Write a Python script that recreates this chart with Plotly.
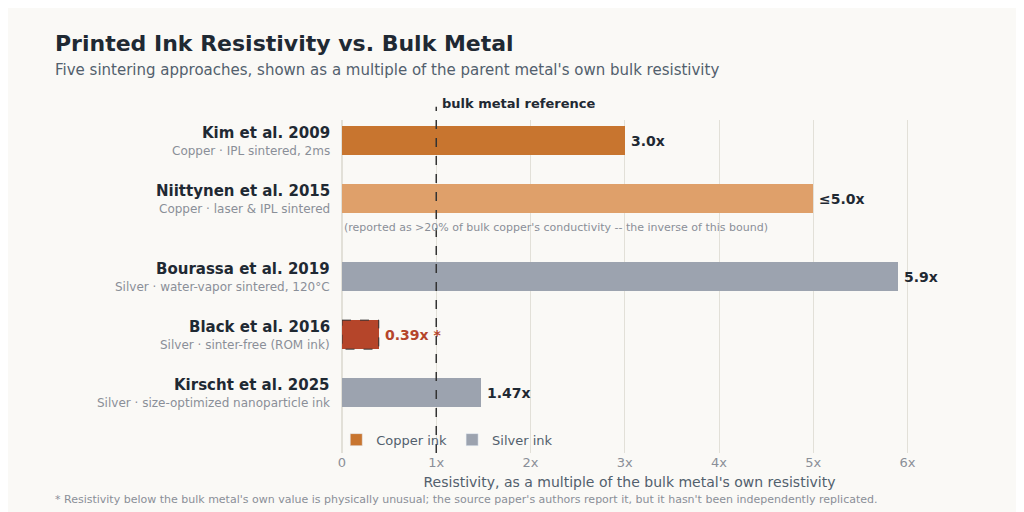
import plotly.graph_objects as go

# Data
studies = ["Kim et al. 2009", "Niittynen et al. 2015", "Bourassa et al. 2019",
           "Black et al. 2016", "Kirscht et al. 2025"]
details = ["Copper · IPL sintered, 2ms", "Copper · laser & IPL sintered",
           "Silver · water-vapor sintered, 120°C", "Silver · sinter-free (ROM ink)",
           "Silver · size-optimized nanoparticle ink"]
metal = ["Copper", "Copper", "Silver", "Silver", "Silver"]
resistivity = [3.0, 5.0, 5.9, 0.39, 1.47]
value_labels = ["3.0x", "≤5.0x", "5.9x", "0.39x *", "1.47x"]
x_ticks = [0, 1, 2, 3, 4, 5, 6]
x_tick_labels = ["0", "1x", "2x", "3x", "4x", "5x", "6x"]

ypos = [0, 1, 2.34, 3.34, 4.34]  # extra gap for the note under Niittynen
colors = ["#C8752F", "#DFA06A", "#9CA3AF", "#B5452A", "#9CA3AF"]
label_colors = ["#1F2933", "#1F2933", "#1F2933", "#B5452A", "#1F2933"]

fig = go.Figure()
for i in range(len(studies)):
    fig.add_trace(go.Bar(
        x=[resistivity[i]], y=[ypos[i]], orientation="h", width=0.5,
        marker=dict(color=colors[i], line=dict(width=0)),
        showlegend=False, hoverinfo="skip"))
    fig.add_annotation(x=resistivity[i], y=ypos[i], text="<b>%s</b>" % value_labels[i],
                       showarrow=False, xanchor="left", xshift=4,
                       font=dict(size=14, color=label_colors[i]))
    fig.add_annotation(x=0, xref="paper", y=ypos[i], text="<b>%s</b>" % studies[i],
                       showarrow=False, xanchor="right", xshift=-10, yshift=8,
                       font=dict(size=15, color="#1F2933"))
    fig.add_annotation(x=0, xref="paper", y=ypos[i], text=details[i],
                       showarrow=False, xanchor="right", xshift=-10, yshift=-10,
                       font=dict(size=12, color="#8A8F98"))

# dashed outline on the unusual (below-bulk) result
fig.add_shape(type="rect", x0=0, x1=resistivity[3], y0=ypos[3] - 0.25, y1=ypos[3] + 0.25,
              line=dict(color="#333", width=1, dash="dash"))

# legend entries
for name, c in [("Copper ink", "#C8752F"), ("Silver ink", "#9CA3AF")]:
    fig.add_trace(go.Bar(x=[None], y=[None], name=name, marker_color=c, orientation="h"))

fig.add_annotation(x=0, y=1.5, text="(reported as >20% of bulk copper's conductivity -- the inverse of this bound)",
                   showarrow=False, xanchor="left", font=dict(size=11, color="#8A8F98"))

# bulk reference line
fig.add_shape(type="line", x0=1, x1=1, y0=0, y1=1.04, yref="paper",
              line=dict(color="#333", width=1.5, dash="dash"))
fig.add_annotation(x=1, y=1.02, yref="paper", text="<b>bulk metal reference</b>", showarrow=False,
                   xanchor="left", yanchor="bottom", xshift=4, font=dict(size=13, color="#1F2933"))

fig.add_annotation(x=-0.503, xref="paper", y=1.231, yref="paper", text="<b>Printed Ink Resistivity vs. Bulk Metal</b>",
                   showarrow=False, xanchor="left", yanchor="middle", font=dict(size=22, color="#1F2933"))
fig.add_annotation(x=-0.503, xref="paper", y=1.15, yref="paper",
                   text="Five sintering approaches, shown as a multiple of the parent metal's own bulk resistivity",
                   showarrow=False, xanchor="left", yanchor="middle", font=dict(size=15, color="#52606D"))
fig.add_annotation(x=-0.503, xref="paper", y=-0.141, yref="paper",
                   text="* Resistivity below the bulk metal's own value is physically unusual; the source paper's authors report it, but it hasn't been independently replicated.",
                   showarrow=False, xanchor="left", yanchor="middle", font=dict(size=11, color="#8A8F98"))

fig.update_layout(
    width=1024, height=512, margin=dict(l=334, r=115, t=112, b=67),
    paper_bgcolor="#FAF9F6", plot_bgcolor="#FAF9F6",
    font=dict(family="DejaVu Sans", color="#52606D"),
    bargap=0, barmode="overlay",
    legend=dict(orientation="h", x=-0.01, y=0.04, xanchor="left", yanchor="middle",
                bgcolor="rgba(0,0,0,0)", font=dict(size=13, color="#52606D")),
    xaxis=dict(range=[0, 6.1], tickvals=x_ticks, ticktext=x_tick_labels, showgrid=True,
               gridcolor="#E2E0D8", zeroline=True, zerolinecolor="#E2E0D8",
               tickfont=dict(size=13, color="#8A8F98"),
               title=dict(text="Resistivity, as a multiple of the bulk metal's own resistivity",
                          font=dict(size=14, color="#52606D"), standoff=8)),
    yaxis=dict(range=[5.38, -0.36], showticklabels=False, showgrid=False, zeroline=False),
)
fig.write_html("out.html")
